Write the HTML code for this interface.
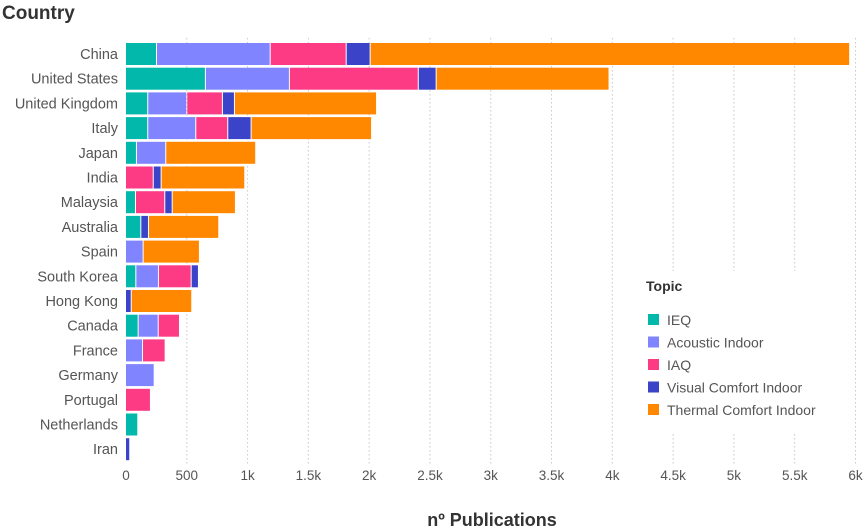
<!DOCTYPE html>
<html><head><meta charset="utf-8"><style>
html,body{margin:0;padding:0;background:#fff;}
svg{display:block;font-family:"Liberation Sans",sans-serif;}
</style></head><body>
<svg id="chart" width="865" height="529" viewBox="0 0 865 529">
<text x="2" y="19" font-size="19" font-weight="bold" fill="#333">Country</text>
<g id="grid"></g><g id="bars"></g><g id="ylabels"></g><g id="xlabels"></g>
<rect x="636" y="271" width="212" height="163" fill="#fff"/>
<g id="legend">
<text x="646" y="291" font-size="14" font-weight="bold" fill="#333">Topic</text>
</g>
<text x="492" y="526" font-size="18" font-weight="bold" fill="#333" text-anchor="middle">nº Publications</text>
</svg>
<script>
const countries=["China","United States","United Kingdom","Italy","Japan","India","Malaysia","Australia","Spain","South Korea","Hong Kong","Canada","France","Germany","Portugal","Netherlands","Iran"];
const topics=["IEQ","Acoustic Indoor","IAQ","Visual Comfort Indoor","Thermal Comfort Indoor"];
const ieq=[255,657,183,183,90,0,82,126,0,85,0,104,0,0,0,101,0];
const acoustic=[935,691,321,395,241,0,0,0,145,186,0,165,140,236,0,0,0];
const iaq=[625,1060,293,263,0,228,241,0,0,269,0,175,186,0,205,0,0];
const visual=[197,147,99,192,0,65,61,63,0,60,47,0,0,0,0,0,35];
const thermal=[3944,1422,1169,991,740,688,520,578,463,0,498,0,0,0,0,0,0];
const ticks=[0,500,1000,1500,2000,2500,3000,3500,4000,4500,5000,5500,6000];
const tickLabels=["0","500","1k","1.5k","2k","2.5k","3k","3.5k","4k","4.5k","5k","5.5k","6k"];
const colors=["#01B8AA","#8085FF","#FD3B85","#3B44C8","#FF8800"];
const NS="http://www.w3.org/2000/svg";
const x0=126,xMax=6000,x1=855.5;
const xs=v=>x0+v/xMax*(x1-x0);
const rowTop=43,step=24.7,bh=22;
const ys=i=>rowTop+i*step;
function mk(tag,attrs,parent){const e=document.createElementNS(NS,tag);for(const k in attrs)e.setAttribute(k,attrs[k]);parent.appendChild(e);return e;}
const grid=document.getElementById('grid'),bars=document.getElementById('bars'),yl=document.getElementById('ylabels'),xl=document.getElementById('xlabels'),lg=document.getElementById('legend');
ticks.forEach((t,i)=>{
  if(i>0){const g=mk('line',{x1:xs(t),x2:xs(t),y1:38,y2:466,stroke:'#c8c8c8','stroke-width':1,'stroke-dasharray':'1.5,2.5'},grid);
  
  }
  const tx=mk('text',{x:xs(t),y:480,'font-size':13.5,fill:'#555','text-anchor':'middle'},xl);
  tx.textContent=tickLabels[i];
  
  
});
const series=[ieq,acoustic,iaq,visual,thermal];
countries.forEach((c,i)=>{
  const t=mk('text',{x:118,y:ys(i)+bh/2+5,'font-size':14.5,fill:'#555','text-anchor':'end'},yl);
  t.textContent=c;
  
  
  let acc=0;
  series.forEach((s,k)=>{
    const v=s[i]; if(!v) return;
    const r=mk('rect',{x:xs(acc),y:ys(i),width:Math.max(0,xs(acc+v)-xs(acc)-1),height:bh,fill:colors[k]},bars);
    
    
    acc+=v;
  });
});
topics.forEach((tp,k)=>{
  const y=320+k*22.5;
  const s=mk('rect',{x:648,y:y-6,width:11,height:11,fill:colors[k]},lg);
  
  
  const t=mk('text',{x:667,y:y+5,'font-size':14,fill:'#555'},lg);
  t.textContent=tp;
  
  
});
</script>
</body></html>
